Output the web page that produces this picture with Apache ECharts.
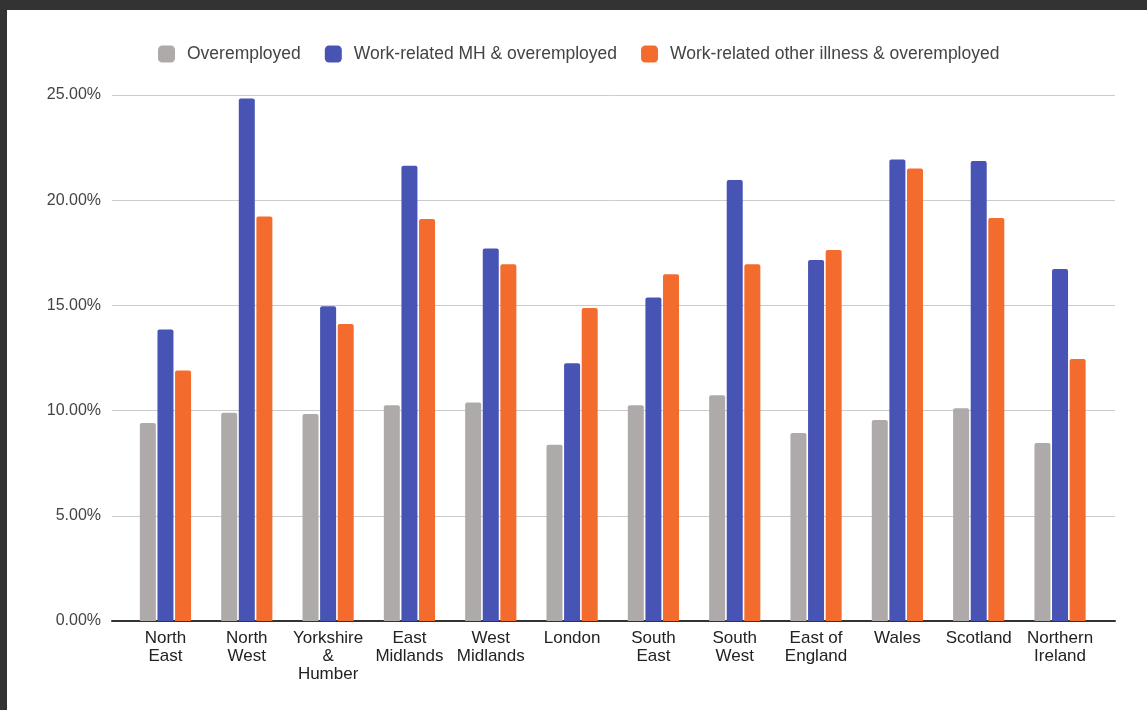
<!DOCTYPE html>
<html>
<head>
<meta charset="utf-8">
<script src="https://cdn.jsdelivr.net/npm/echarts@6/dist/echarts.min.js"></script>
<style>
  html, body { margin: 0; padding: 0; background: #333333; }
  #frame { position: relative; width: 1147px; height: 710px; background: #333333; overflow: hidden; }
  #chart { position: absolute; left: 7px; top: 10px; width: 1140px; height: 700px; background: #ffffff; }
</style>
</head>
<body>
<div id="frame"><div id="chart"></div></div>
<script>
// Regions of the UK
const regions = [
  'North\nEast', 'North\nWest', 'Yorkshire\n&\nHumber', 'East\nMidlands', 'West\nMidlands',
  'London', 'South\nEast', 'South\nWest', 'East of\nEngland', 'Wales', 'Scotland', 'Northern\nIreland'
];

// Shares of workers, in percent
const overemployed = [9.41, 9.90, 9.84, 10.25, 10.38, 8.38, 10.25, 10.73, 8.94, 9.55, 10.11, 8.46];
const mhOveremployed = [13.86, 24.83, 14.96, 21.64, 17.71, 12.25, 15.37, 20.96, 17.16, 21.93, 21.86, 16.73];
const otherIllnessOveremployed = [11.90, 19.23, 14.12, 19.11, 16.95, 14.88, 16.48, 16.95, 17.63, 21.51, 19.15, 12.45];

const seriesNames = ['Overemployed', 'Work-related MH & overemployed', 'Work-related other illness & overemployed'];
const colors = ['#aeaaa9', '#4754b3', '#f36c2e'];

// Value axis ticks
const yMin = 0, yMax = 25, yStep = 5;

const font = 'Arial, "Liberation Sans", sans-serif';
const chart = echarts.init(document.getElementById('chart'), null, { renderer: 'canvas' });

const barBase = {
  type: 'bar',
  xAxisIndex: 1,
  yAxisIndex: 1,
  barWidth: 16,
  barGap: '10%',
  itemStyle: { borderRadius: [2, 2, 0, 0] },
  emphasis: { disabled: true }
};

chart.setOption({
  animation: false,
  color: colors,
  textStyle: { fontFamily: font },
  legend: {
    top: 30,
    left: 146,
    itemWidth: 17,
    itemHeight: 17,
    itemGap: 24,
    icon: 'roundRect',
    textStyle: { fontSize: 17.5, color: '#444444', padding: [0, 0, 0, 7], fontFamily: font },
    data: seriesNames
  },
  grid: [
    // frame for gridlines and baseline
    { left: 105, right: 32, top: 85, bottom: 89 },
    // region bands
    { left: 117.8, right: 46.3, top: 85, bottom: 89 }
  ],
  xAxis: [
    {
      type: 'value', gridIndex: 0, min: 0, max: 1,
      axisLine: { show: true, lineStyle: { color: '#333333', width: 2 } },
      axisTick: { show: false }, axisLabel: { show: false }, splitLine: { show: false }
    },
    {
      type: 'category', gridIndex: 1, data: regions,
      axisLine: { show: false }, axisTick: { show: false },
      axisLabel: { interval: 0, margin: 8, fontSize: 17, lineHeight: 18, color: '#222222', fontFamily: font }
    }
  ],
  yAxis: [
    {
      type: 'value', gridIndex: 0, min: yMin, max: yMax, interval: yStep,
      axisLine: { show: false }, axisTick: { show: false },
      axisLabel: {
        margin: 11, fontSize: 16, color: '#444444', fontFamily: font,
        formatter: v => v.toFixed(2) + '%'
      },
      splitLine: { lineStyle: { color: '#cccccc', width: 1 } }
    },
    {
      type: 'value', gridIndex: 1, min: yMin, max: yMax, interval: yStep, show: false,
      splitLine: { show: false }
    }
  ],
  series: [
    Object.assign({}, barBase, { name: seriesNames[0], data: overemployed }),
    Object.assign({}, barBase, { name: seriesNames[1], data: mhOveremployed }),
    Object.assign({}, barBase, { name: seriesNames[2], data: otherIllnessOveremployed })
  ]
});
</script>
</body>
</html>
